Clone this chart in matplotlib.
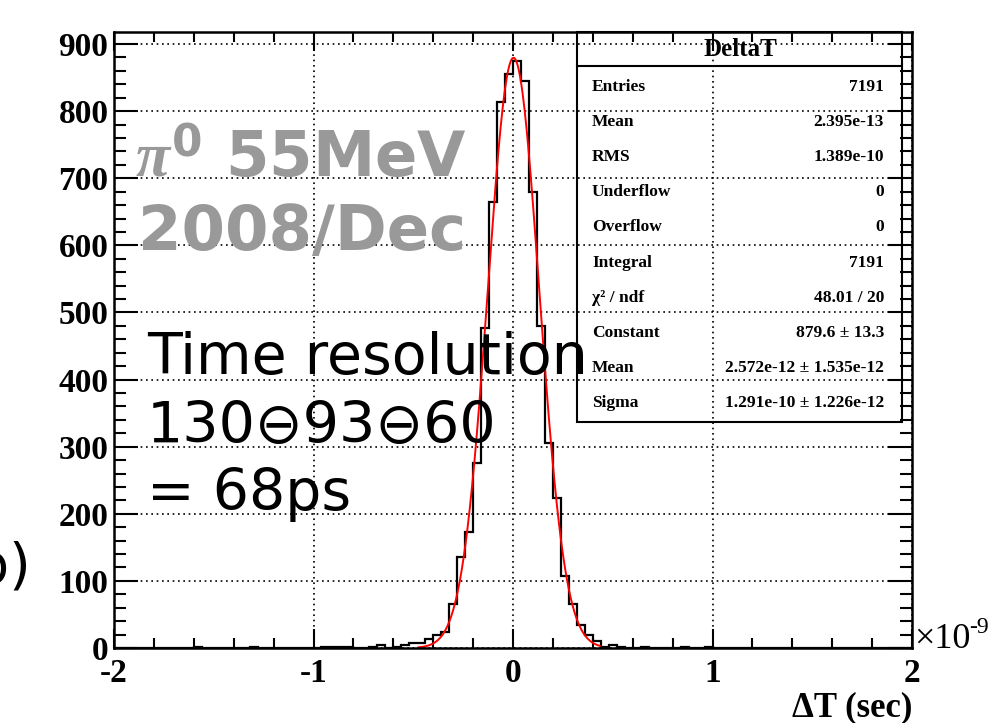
import numpy as np
import matplotlib.pyplot as plt
from matplotlib.ticker import MultipleLocator
from matplotlib.patches import Rectangle
from matplotlib.lines import Line2D

plt.rcParams['axes.unicode_minus'] = False
plt.rcParams['mathtext.fontset'] = 'custom'
plt.rcParams['mathtext.it'] = 'Liberation Serif:italic:bold'
plt.rcParams['mathtext.bf'] = 'DejaVu Sans:bold'
plt.rcParams['mathtext.rm'] = 'DejaVu Sans:bold'

# histogram DeltaT, 100 bins from -2 to 2 (x1e-9 s)
bin_edges = np.linspace(-2, 2, 101)
counts = [0, 0, 0, 0, 0, 0, 0, 0, 0, 0,
          1, 0, 0, 0, 0, 0, 0, 1, 0, 0,
          0, 0, 0, 0, 0, 0, 1, 1, 1, 1,
          0, 0, 1, 4, 0, 1, 4, 7, 7, 14,
          20, 24, 66, 136, 173, 276, 477, 665, 813, 855,
          875, 845, 679, 480, 306, 223, 108, 66, 35, 20,
          10, 1, 4, 1, 0, 0, 1, 0, 0, 0,
          0, 1, 0, 0, 1, 0, 0, 0, 0, 0,
          0, 0, 0, 0, 0, 0, 0, 0, 0, 0,
          0, 0, 0, 0, 0, 0, 0, 0, 0, 0]

# gaussian fit result (from stats box)
fit_const = 879.6
fit_mean = 2.572e-12 * 1e9
fit_sigma = 1.291e-10 * 1e9
fit_range = (-0.475, 0.435)

stat_names = ['Entries', 'Mean', 'RMS', 'Underflow', 'Overflow', 'Integral',
              'χ² / ndf', 'Constant', 'Mean', 'Sigma']
stat_values = ['7191', '2.395e-13', '1.389e-10', '0', '0', '7191',
               '48.01 / 20', '879.6 ± 13.3', '2.572e-12 ± 1.535e-12',
               '1.291e-10 ± 1.226e-12']

W, H = 1001, 723
fig = plt.figure(figsize=(W / 100, H / 100), dpi=100)


def fx(px):
    return px / W


def fy(py):
    return 1 - py / H


ax = fig.add_axes([fx(114), fy(648), (912 - 114) / W, (648 - 32) / H])

ax.grid(True, which='major', color='black', linestyle=(0, (1, 2.2)), linewidth=1.2)
ax.set_axisbelow(True)

ax.stairs(counts, bin_edges, color='black', linewidth=1.6)
xf = np.linspace(fit_range[0], fit_range[1], 300)
ax.plot(xf, fit_const * np.exp(-0.5 * ((xf - fit_mean) / fit_sigma) ** 2),
        color='red', linewidth=1.4)

ax.set_xlim(-2, 2)
ax.set_ylim(0, 918)
ax.xaxis.set_major_locator(MultipleLocator(1))
ax.xaxis.set_minor_locator(MultipleLocator(0.2))
ax.yaxis.set_major_locator(MultipleLocator(100))
ax.yaxis.set_minor_locator(MultipleLocator(20))
ax.tick_params(which='both', direction='in', top=True, right=True, width=1.5, colors='black')
ax.tick_params(axis='y', which='major', length=17, pad=4)
ax.tick_params(axis='y', which='minor', length=8.5)
ax.tick_params(axis='x', which='major', length=14, pad=7)
ax.tick_params(axis='x', which='minor', length=7)
for lab in ax.get_xticklabels() + ax.get_yticklabels():
    lab.set_fontfamily('Liberation Serif')
    lab.set_fontweight('bold')
    lab.set_fontsize(24)
for sp in ax.spines.values():
    sp.set_linewidth(1.8)

# axis title and exponent
fig.text(fx(912), fy(716), 'ΔT (sec)', ha='right', va='baseline',
         family='Liberation Serif', weight='bold', fontsize=25)
fig.text(fx(914), fy(648), '×10', ha='left', va='baseline',
         family='Liberation Serif', fontsize=26)
fig.text(fx(969), fy(633), '-9', ha='left', va='baseline',
         family='Liberation Serif', fontsize=17)

# stats box
fig.patches.append(Rectangle((fx(577), fy(422)), (902 - 577) / W, (422 - 32) / H,
                             transform=fig.transFigure, fill=False,
                             edgecolor='black', linewidth=1.5))
fig.lines.append(Line2D([fx(577), fx(902)], [fy(66), fy(66)],
                        transform=fig.transFigure, color='black', linewidth=1.5))
fig.text(fx(740), fy(50), 'DeltaT', ha='center', va='center',
         family='Liberation Serif', weight='bold', fontsize=18)
for i, (name, val) in enumerate(zip(stat_names, stat_values)):
    ypx = 87 + 35.1 * i
    fig.text(fx(592), fy(ypx), name, ha='left', va='center',
             family='Liberation Serif', weight='bold', fontsize=12.5)
    fig.text(fx(884), fy(ypx), val, ha='right', va='center',
             family='Liberation Serif', weight='bold', fontsize=12.5)

# annotations
gray = '#999999'
fig.text(fx(135), fy(178), r'$\pi^{\mathbf{0}}$ 55MeV', ha='left', va='baseline',
         color=gray, fontsize=45, weight='bold', family='DejaVu Sans')
fig.text(fx(138), fy(250), '2008/Dec', ha='left', va='baseline',
         color=gray, fontsize=45, weight='bold', family='DejaVu Sans')
fig.text(fx(147), fy(374), 'Time resolution', ha='left', va='baseline',
         color='black', fontsize=41, family='DejaVu Sans')
fig.text(fx(147), fy(443), '130⊖93⊖60', ha='left', va='baseline',
         color='black', fontsize=41, family='DejaVu Sans')
fig.text(fx(147), fy(510), '= 68ps', ha='left', va='baseline',
         color='black', fontsize=41, family='DejaVu Sans')
fig.text(fx(31), fy(583), 'b)', ha='right', va='baseline',
         color='black', fontsize=40, family='DejaVu Sans')

fig.savefig('out.png', dpi=100)
